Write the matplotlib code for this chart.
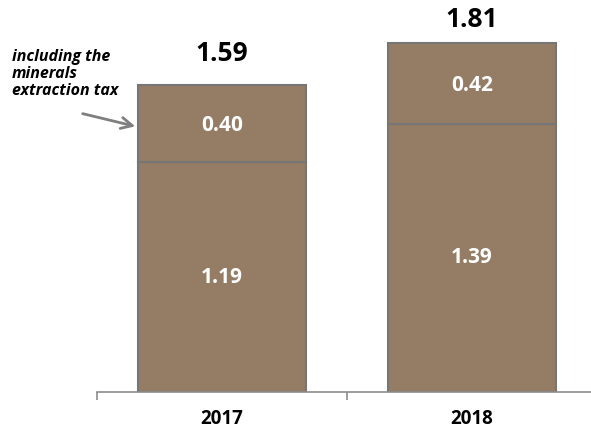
import matplotlib.pyplot as plt

years = ["2017", "2018"]
base = [1.19, 1.39]
tax = [0.40, 0.42]
totals = [1.59, 1.81]

bar_color = "#957c64"
edge_color = "#767676"

plt.rcParams['font.family'] = ['Open Sans', 'DejaVu Sans']

fig = plt.figure(figsize=(5.91, 4.28), dpi=100)
ax = fig.add_axes([97 / 591, 36 / 428, 500 / 591, 386 / 428])

x = range(len(years))
ax.bar(x, base, width=0.67, color=bar_color, edgecolor=edge_color, linewidth=1.5)
ax.bar(x, tax, width=0.67, bottom=base, color=bar_color, edgecolor=edge_color, linewidth=1.5)

# total labels sit closer to the taller bar
total_offsets = [23, 17]
for i in x:
    ax.text(i, base[i] / 2, f"{base[i]:.2f}", ha="center", va="center",
            color="white", fontsize=15, fontweight="bold")
    ax.text(i, base[i] + tax[i] / 2 - 0.01, f"{tax[i]:.2f}", ha="center", va="center",
            color="white", fontsize=15, fontweight="bold")
    ax.annotate(f"{totals[i]:.2f}", xy=(i, totals[i]), xytext=(0, total_offsets[i]),
                textcoords="offset points", ha="center", va="center",
                color="black", fontsize=19, fontweight="bold")

ax.set_xlim(-0.5, 1.5)
ax.set_ylim(0, 2)

for side in ["top", "right", "left"]:
    ax.spines[side].set_visible(False)
ax.spines["bottom"].set_color("#8c8c8c")
ax.spines["bottom"].set_linewidth(1.2)
ax.set_yticks([])

ax.set_xticks(list(x))
ax.set_xticklabels(years, fontsize=13.5, fontweight="bold")
ax.tick_params(axis="x", which="major", length=0, pad=12)
ax.set_xticks([-0.5, 0.5, 1.5], minor=True)
ax.tick_params(axis="x", which="minor", length=6, width=1.2, color="#8c8c8c", direction="out")

fig.text(12 / 591, 1 - 74 / 428, "including the\nminerals\nextraction tax",
         ha="left", va="center", fontsize=11.5, fontweight="bold", style="italic",
         linespacing=1.08)
ax.annotate("", xy=(138 / 591, 1 - 127 / 428), xytext=(80 / 591, 1 - 113 / 428),
            xycoords="figure fraction", textcoords="figure fraction",
            arrowprops=dict(arrowstyle="->", color="#7f7f7f", lw=2, mutation_scale=20))

fig.savefig("out.png", dpi=100)
